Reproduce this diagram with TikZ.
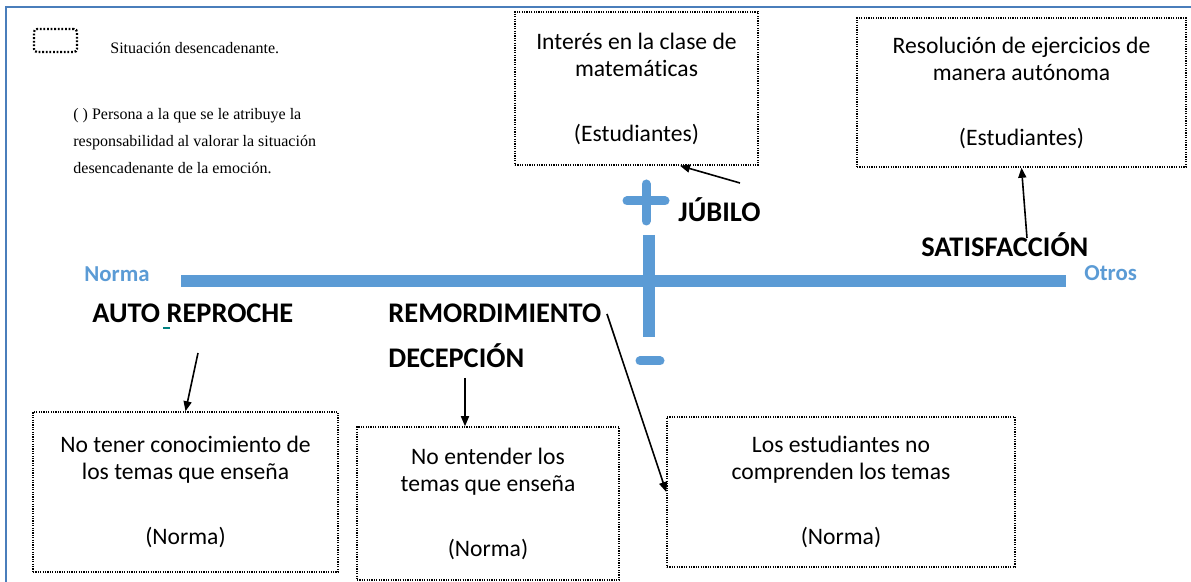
\documentclass[tikz,border=0pt]{standalone}
\usepackage{fontspec}
\setmainfont{Carlito}[Ligatures=NoCommon]
\newfontfamily\timesfont{Liberation Serif}
\usetikzlibrary{arrows.meta,calc}
\definecolor{axisblue}{RGB}{91,155,213}
\definecolor{frameblue}{RGB}{74,126,187}
\definecolor{markteal}{RGB}{0,128,128}

\begin{document}
\begin{tikzpicture}[x=0.5pt, y=-0.5pt,
    sitbox/.style={draw, dash pattern=on 0.6pt off 0.6pt, line width=0.75pt, align=center,
        font=\fontsize{11.8}{13.5}\selectfont, inner sep=0pt},
    emo/.style={font=\fontsize{14.2}{16}\selectfont\bfseries, anchor=base west, inner sep=0pt},
    axislbl/.style={text=axisblue, font=\fontsize{11.4}{13}\selectfont\bfseries, anchor=base west, inner sep=0pt},
    axisline/.style={axisblue, line width=5.75pt},
    sign/.style={axisblue, line width=4.5pt, line cap=round},
    arr/.style={-{Triangle[length=5pt,width=4pt]}, line width=0.8pt}]

    \useasboundingbox (0,0) rectangle (1191,582);

    % marco
    \draw[frameblue, line width=1.3pt] (6,582) -- (6,7) -- (1191,7);

    % leyenda
    \node[draw, dash pattern=on 0.9pt off 0.9pt, line width=1.1pt, rounded corners=1.5pt,
        minimum width=21.5pt, minimum height=11.5pt, inner sep=0pt] (leg) at (55.5,40.5) {};
    \node[font=\timesfont\fontsize{8}{10}\selectfont, anchor=base west, inner sep=0pt]
        (legtxt) at (110,54) {Situación desencadenante.};
    \node[font=\timesfont\fontsize{8}{13.5}\selectfont, anchor=north west, align=left, inner sep=0pt]
        (legpar) at (73,108) {( ) Persona a la que se le atribuye la\\
        responsabilidad al valorar la situación\\
        desencadenante de la emoción.};

    % ejes
    \draw[axisline] (181,281) -- (1066,281);
    \draw[axisline] (649,235) -- (649,337);
    \draw[sign] (627,201) -- (665,201);
    \draw[sign] (646,184) -- (646,221);
    \draw[sign] (640,361) -- (660,361);
    \node[axislbl] (norma) at (84,282) {Norma};
    \node[axislbl] (otros) at (1084,281) {Otros};

    % situaciones
    \node[sitbox, minimum width=121.5pt, minimum height=76.5pt] (interes) at (636.5,88.5)
        {Interés en la clase de\\matemáticas\\[19pt](Estudiantes)};
    \node[sitbox, minimum width=164.5pt, minimum height=74.5pt] (resol) at (1021.5,92.5)
        {Resolución de ejercicios de\\manera autónoma\\[19pt](Estudiantes)};
    \node[sitbox, minimum width=152.5pt, minimum height=80pt] (conoc) at (185.5,492)
        {No tener conocimiento de\\los temas que enseña\\[19pt](Norma)};
    \node[sitbox, minimum width=131pt, minimum height=76.5pt] (entend) at (488,503.5)
        {No entender los\\temas que enseña\\[19pt](Norma)};
    \node[sitbox, minimum width=174pt, minimum height=75pt] (compr) at (841,492)
        {Los estudiantes no\\comprenden los temas\\[19pt](Norma)};

    % emociones
    \node[emo] (jubilo) at (678,222) {JÚBILO};
    \node[emo] (satisf) at (921,257) {SATISFACCIÓN};
    \node[emo] (autorep) at (92,323) {AUTO REPROCHE};
    \node[emo] (remord) at (388,323) {REMORDIMIENTO};
    \node[emo] (decep) at (388,368) {DECEPCIÓN};
    \draw[markteal, line width=0.8pt] (163,328) -- (170,328);

    \coordinate (jubt) at (740,183);
    \coordinate (satt) at (1027,238);
    \coordinate (autot) at (198,353);
    \coordinate (remt) at (607,314);
    \coordinate (dect) at (465,378);

    \draw[arr] (jubt) -- ($(interes.south)+(43.5,0)$);
    \draw[arr] (satt) -- (resol.south);
    \draw[arr] (autot) -- (conoc.north);
    \draw[arr] (dect) -- ($(entend.north)+(-23,0)$);
    \draw[arr] (remt) -- (compr.west);
\end{tikzpicture}
\end{document}
